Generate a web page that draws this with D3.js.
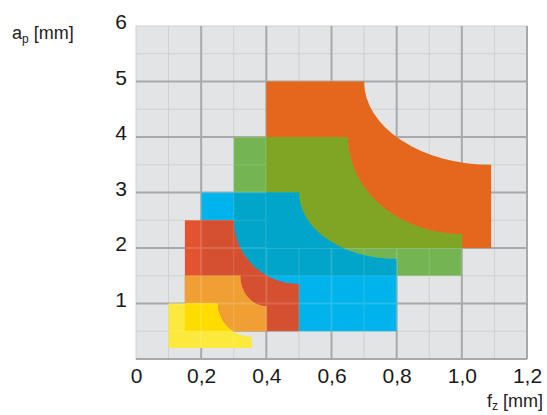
<!DOCTYPE html>
<html>
<head>
<meta charset="utf-8">
<script src="https://cdn.jsdelivr.net/npm/d3@7"></script>
<style>
  html, body { margin: 0; padding: 0; background: #ffffff; }
  svg { display: block; font-family: "Liberation Sans", Arial, sans-serif; }
</style>
</head>
<body>
<svg id="chart" width="547" height="415"></svg>
<script>
// ---- data (bottom to top drawing order) ----
const regionNames = ["R1", "R2", "R3", "R4", "R5", "R6"];
const fzMin = [0.40, 0.30, 0.20, 0.15, 0.15, 0.10];
const fzMax = [1.09, 1.00, 0.80, 0.50, 0.40, 0.355];
const apMin = [2.00, 1.50, 0.50, 0.50, 0.50, 0.20];
const apMax = [5.00, 4.00, 3.00, 2.50, 1.50, 1.00];
const fzArcStart = [0.70, 0.65, 0.50, 0.30, 0.32, 0.25]; // where the top edge turns into the curve
const apArcEnd = [3.50, 2.25, 1.80, 1.35, 0.95, 0.40];   // where the curve meets the right edge
const baseColors = ["#e4671c", "#74b452", "#00b3ea", "#e4532f", "#f0a033", "#fde83e"];
const overlapColors = [null, "#7fa522", "#00a5c9", "#d45030", "#f0a033", "#ffdc00"];
const overlapWith = [[], [0], [0, 1], [2], [3], [4]];

const xTicks = [0, 0.2, 0.4, 0.6, 0.8, 1.0, 1.2];
const yTicks = [1, 2, 3, 4, 5, 6];
const xMinor = [0.1, 0.3, 0.5, 0.7, 0.9, 1.1];
const yMinor = [0.5, 1.5, 2.5, 3.5, 4.5, 5.5];
const xMajor = [0.2, 0.4, 0.6, 0.8, 1.0, 1.2];
const yMajor = [0, 1, 2, 3, 4, 5];

// ---- layout ----
const svg = d3.select("#chart");
const x = d3.scaleLinear().domain([0, 1.2]).range([136, 527]);
const y = d3.scaleLinear().domain([0, 6]).range([359, 26]);

function regionPath(i) {
  const x0 = x(fzMin[i]), x1 = x(fzMax[i]);
  const y0 = y(apMin[i]), y1 = y(apMax[i]);
  const cx = x(fzArcStart[i]), cy = y(apArcEnd[i]);
  const rx = x1 - cx, ry = cy - y1;
  return `M${x0},${y0}L${x0},${y1}L${cx},${y1}A${rx},${ry} 0 0 0 ${x1},${cy}L${x1},${y0}Z`;
}

const defs = svg.append("defs");

// background
svg.append("rect")
  .attr("x", x(0)).attr("y", y(6))
  .attr("width", x(1.2) - x(0)).attr("height", y(0) - y(6))
  .attr("fill", "#e3e4e5").attr("stroke", "#d0d1d2").attr("stroke-width", 1);

function drawGrid(g, minorColor, majorColor, minorW, majorW) {
  g.append("g").selectAll("line").data(xMinor).join("line")
    .attr("x1", d => x(d)).attr("x2", d => x(d)).attr("y1", y(0)).attr("y2", y(6))
    .attr("stroke", minorColor).attr("stroke-width", minorW);
  g.append("g").selectAll("line").data(yMinor).join("line")
    .attr("y1", d => y(d)).attr("y2", d => y(d)).attr("x1", x(0)).attr("x2", x(1.2))
    .attr("stroke", minorColor).attr("stroke-width", minorW);
  g.append("g").selectAll("line").data(xMajor).join("line")
    .attr("x1", d => x(d)).attr("x2", d => x(d)).attr("y1", y(0)).attr("y2", y(6))
    .attr("stroke", majorColor).attr("stroke-width", majorW);
  g.append("g").selectAll("line").data(yMajor).join("line")
    .attr("y1", d => y(d)).attr("y2", d => y(d)).attr("x1", x(0)).attr("x2", x(1.2))
    .attr("stroke", majorColor).attr("stroke-width", majorW);
}

const gridG = svg.append("g");
drawGrid(gridG, "#cfd0d1", "#a8a9aa", 1, 2);

// clip paths for overlaps
regionNames.forEach((n, i) => {
  if (!overlapWith[i].length) return;
  const cp = defs.append("clipPath").attr("id", "clip" + i);
  overlapWith[i].forEach(j => cp.append("path").attr("d", regionPath(j)));
});

// regions
const regG = svg.append("g");
regionNames.forEach((n, i) => {
  regG.append("path").attr("d", regionPath(i)).attr("fill", baseColors[i]);
  if (overlapColors[i]) {
    regG.append("path").attr("d", regionPath(i))
      .attr("fill", overlapColors[i]).attr("clip-path", `url(#clip${i})`);
  }
});

// faint grid showing through the smaller regions (not over the big orange one)
const mask = defs.append("mask").attr("id", "gridmask")
  .attr("maskUnits", "userSpaceOnUse").attr("x", 0).attr("y", 0).attr("width", 547).attr("height", 415);
mask.append("rect").attr("width", 547).attr("height", 415).attr("fill", "black");
regionNames.forEach((n, i) => { if (i > 0) mask.append("path").attr("d", regionPath(i)).attr("fill", "white"); });
mask.append("path").attr("d", regionPath(0)).attr("fill", "black");
const overlay = svg.append("g").attr("mask", "url(#gridmask)").attr("opacity", 0.14);
drawGrid(overlay, "#ffffff", "#ffffff", 1, 2);

// axes labels
const fmt = d => d === 0 ? "0" : d3.format(".1f")(d).replace(".", ",");
const xAxis = svg.append("g").attr("transform", `translate(0,${y(0)})`)
  .call(d3.axisBottom(x).tickValues(xTicks).tickFormat(fmt).tickSize(0).tickPadding(9));
xAxis.select(".domain").remove();
xAxis.selectAll("text").attr("font-size", 21).attr("fill", "#1a1a1a")
  .attr("font-family", "Liberation Sans, Arial, sans-serif");

const yAxis = svg.append("g").attr("transform", `translate(${x(0) - 9},0)`)
  .call(d3.axisLeft(y).tickValues(yTicks).tickFormat(d3.format("d")).tickSize(0).tickPadding(0));
yAxis.select(".domain").remove();
yAxis.selectAll("text").attr("font-size", 21).attr("fill", "#1a1a1a").attr("dy", "0.12em")
  .attr("font-family", "Liberation Sans, Arial, sans-serif");

// axis titles
const yt = svg.append("text").attr("x", 12).attr("y", 39).attr("font-size", 18).attr("fill", "#222");
yt.append("tspan").text("a");
yt.append("tspan").attr("font-size", 12).attr("dy", 4).text("p");
yt.append("tspan").attr("dy", -4).text(" [mm]");

const xt = svg.append("text").attr("x", 543).attr("y", 407).attr("text-anchor", "end").attr("font-size", 18).attr("fill", "#222");
xt.append("tspan").text("f");
xt.append("tspan").attr("font-size", 12).attr("dy", 3).text("z");
xt.append("tspan").attr("dy", -3).text(" [mm]");
</script>
</body>
</html>
